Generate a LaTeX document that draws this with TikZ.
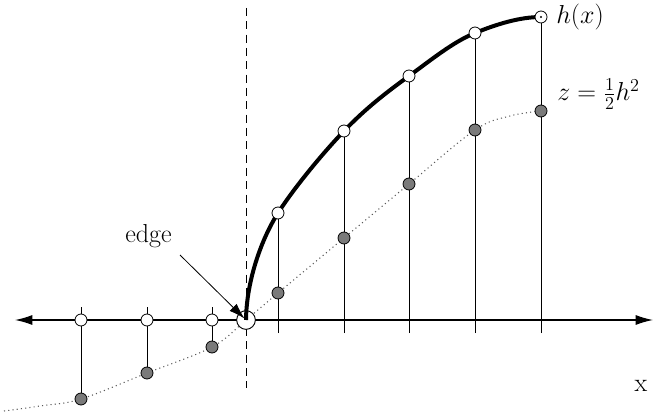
\RequirePackage{fix-cm}
\documentclass[tikz,border=0pt]{standalone}
\usetikzlibrary{arrows.meta}
\begin{document}
\begin{tikzpicture}[x=0.75pt,y=-0.75pt,
  wpt/.style={circle,draw,fill=white,inner sep=0pt,minimum size=9pt,line width=0.6pt},
  gpt/.style={circle,draw,fill=black!52,inner sep=0pt,minimum size=9pt,line width=0.6pt},
  edgept/.style={circle,draw,fill=white,inner sep=0pt,minimum size=14pt,line width=0.7pt},
  lbl/.style={font=\fontsize{19.5}{23}\selectfont,inner sep=0pt},
  stem/.style={line width=0.6pt},
  hcurve/.style={line width=3pt},
  zcurve/.style={line width=0.8pt,black!65,dash pattern=on 0.8pt off 2.4pt},
  axisline/.style={line width=0.9pt,{Latex[length=13pt,width=7.5pt]}-{Latex[length=13pt,width=7.5pt]}},
  edgearrow/.style={line width=0.6pt,-{Latex[length=12pt,width=7.5pt]},shorten >=1.5pt},
  sep/.style={line width=0.6pt,dash pattern=on 6pt off 4pt}]
\useasboundingbox (0,0) rectangle (666,416);
% positions
\coordinate (axL) at (15,320);
\coordinate (axR) at (653,320);
\coordinate (dT) at (246,8);
\coordinate (dB) at (246,388);
\coordinate (e) at (246,320);
\coordinate (t1) at (81,307);  \coordinate (a1) at (81,320);  \coordinate (z1) at (81,399);
\coordinate (t2) at (147,307); \coordinate (a2) at (147,320); \coordinate (z2) at (147,373);
\coordinate (t3) at (212,307); \coordinate (a3) at (212,320); \coordinate (z3) at (212,347);
\coordinate (b4) at (278,333); \coordinate (h4) at (278,213); \coordinate (z4) at (278,293);
\coordinate (b5) at (344,333); \coordinate (h5) at (344,131); \coordinate (z5) at (344,238);
\coordinate (b6) at (409,333); \coordinate (h6) at (409,76);  \coordinate (z6) at (409,184);
\coordinate (b7) at (475,333); \coordinate (h7) at (475,33);  \coordinate (z7) at (475,130);
\coordinate (b8) at (541,333); \coordinate (h8) at (541,17);  \coordinate (z8) at (541,111);
\coordinate (zs) at (4,411);
\coordinate (zq) at (40,406);
\coordinate (es) at (180,255);
% dashed separator
\draw[sep] (dT) -- (dB);
% axis
\draw[axisline] (axL) -- (axR);
% stems
\foreach \i in {1,2,3} \draw[stem] (t\i) -- (z\i);
\foreach \i in {4,5,6,7,8} \draw[stem] (b\i) -- (h\i);
% z curve
\draw[zcurve] plot[smooth,tension=0.6] coordinates {(zs) (zq) (z1) (z2) (z3) (e) (z4) (z5) (z6) (z7) (510,116) (z8)};
% edge point
\node[edgept] (edge) at (e) {};
% h curve
\draw[hcurve] (e) .. controls (246.5,280) and (262,238) .. (h4)
  .. controls (294,188) and (322,154) .. (h5)
  .. controls (366,108) and (387,92) .. (h6)
  .. controls (431,60) and (453,42) .. (h7)
  .. controls (497,24) and (520,17) .. (h8);
% points
\foreach \i in {1,2,3} {\node[wpt] (w\i) at (a\i) {}; \node[gpt] (g\i) at (z\i) {};}
\foreach \i in {4,5,6,7,8} {\node[wpt] (w\i) at (h\i) {}; \node[gpt] (g\i) at (z\i) {};}
\fill (w8.center) circle[radius=0.9pt];
% edge arrow
\draw[edgearrow] (es) -- (edge.center);
% labels
\node[lbl,anchor=base] (edgelbl) at (148.5,243) {edge};
\node[lbl,anchor=base west] (hlbl) at (556,24) {$h(x)$};
\node[lbl,anchor=base west] (zlbl) at (557,101) {$z=\frac{1}{2}h^2$};
\node[lbl,anchor=base] (xlbl) at (641,391) {x};
\end{tikzpicture}
\end{document}
